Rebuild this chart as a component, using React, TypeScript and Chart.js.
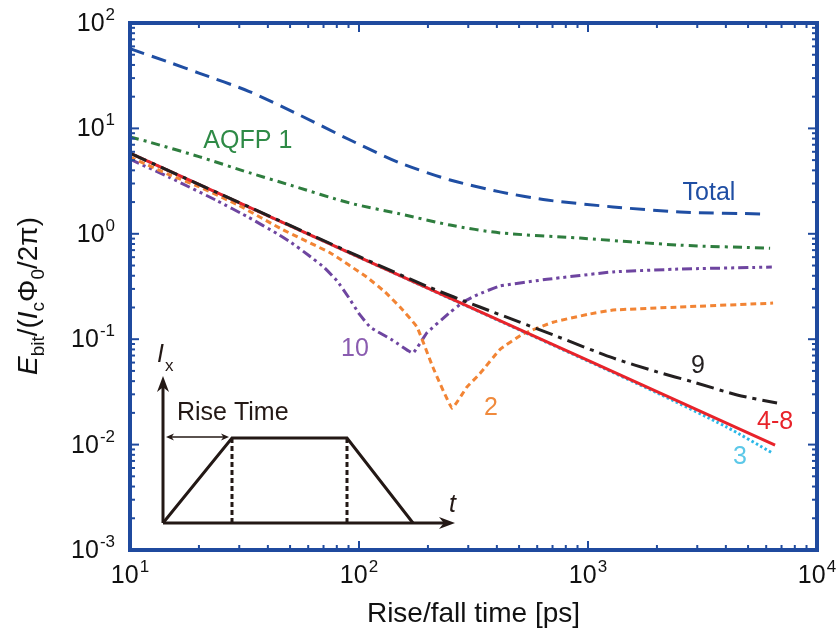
import React, { useEffect, useRef } from "react";
import { Chart, registerables } from "chart.js";

Chart.register(...registerables);

// ---------- data ----------
const totalX = [10, 15, 20, 33, 55, 91, 151, 250, 413, 662, 1285, 2520, 6050];
const totalY = [57, 42, 33.5, 22.5, 13.4, 7.8, 4.7, 3.24, 2.5, 2.09, 1.8, 1.61, 1.54];

const aqfp1X = [10, 12.2, 20, 33.4, 50, 91, 150, 250, 413, 923, 2520, 6240];
const aqfp1Y = [8.3, 7.4, 5.4, 3.78, 2.9, 1.96, 1.55, 1.21, 1.02, 0.91, 0.78, 0.73];

const aqfp10X = [10, 15, 24, 33, 44, 50, 60, 70, 80, 90, 100, 112, 140, 172, 198, 250, 285, 330, 413, 662, 1285, 2520, 6350];
const aqfp10Y = [5.1, 3.4, 2.06, 1.43, 1.0, 0.84, 0.63, 0.485, 0.36, 0.25, 0.175, 0.13, 0.098, 0.074, 0.115, 0.18, 0.225, 0.265, 0.32, 0.37, 0.435, 0.463, 0.484];

const aqfp2X = [10, 15, 20, 30, 46.6, 75, 108, 130, 151, 179, 210, 255, 296, 337, 413, 520, 703, 1000, 1285, 2520, 6430];
const aqfp2Y = [5.36, 3.6, 2.8, 1.85, 1.09, 0.658, 0.389, 0.28, 0.202, 0.131, 0.0545, 0.0222, 0.0352, 0.047, 0.08, 0.112, 0.145, 0.172, 0.189, 0.202, 0.22];

const aqfp9X = [10, 100, 200, 337, 500, 703, 1285, 2000, 2875, 4480, 6690];
const aqfp9Y = [5.82, 0.61, 0.315, 0.202, 0.146, 0.11, 0.0664, 0.049, 0.0393, 0.0296, 0.0248];

const aqfp48X = [10, 100, 1000, 6560];
const aqfp48Y = [5.82, 0.6, 0.063, 0.0099];

const aqfp3X = [10, 100, 1000, 2000, 4000, 6400];
const aqfp3Y = [5.82, 0.6, 0.062, 0.031, 0.0148, 0.0083];

const xExponents = ["1", "2", "3", "4"];
const yExponents = ["2", "1", "0", "-1", "-2", "-3"];

const FONT = '"Liberation Sans", Arial, Helvetica, sans-serif';
const FRAME = "#1f4a9e";
const INK = "#231815";

const pts = (xs: number[], ys: number[]) => xs.map((x, i) => ({ x, y: ys[i] }));

function drawPow(ctx: CanvasRenderingContext2D, exp: string, x: number, y: number, align: "center" | "right") {
  ctx.font = `25px ${FONT}`;
  const wb = ctx.measureText("10").width;
  ctx.font = `17px ${FONT}`;
  const we = ctx.measureText(exp).width;
  const total = wb + we + 1;
  const x0 = align === "center" ? x - total / 2 : x - total;
  ctx.textAlign = "left";
  ctx.textBaseline = "alphabetic";
  ctx.fillStyle = "#111";
  ctx.font = `25px ${FONT}`;
  ctx.fillText("10", x0, y + 9);
  ctx.font = `17px ${FONT}`;
  ctx.fillText(exp, x0 + wb + 1, y - 2);
}

function arrowHead(ctx: CanvasRenderingContext2D, x: number, y: number, dir: "up" | "right" | "left", len: number, half: number) {
  ctx.beginPath();
  if (dir === "up") {
    ctx.moveTo(x, y);
    ctx.lineTo(x - half, y + len);
    ctx.lineTo(x, y + len * 0.7);
    ctx.lineTo(x + half, y + len);
  } else if (dir === "right") {
    ctx.moveTo(x, y);
    ctx.lineTo(x - len, y - half);
    ctx.lineTo(x - len * 0.7, y);
    ctx.lineTo(x - len, y + half);
  } else {
    ctx.moveTo(x, y);
    ctx.lineTo(x + len, y - half);
    ctx.lineTo(x + len * 0.7, y);
    ctx.lineTo(x + len, y + half);
  }
  ctx.closePath();
  ctx.fill();
}

const decorPlugin = {
  id: "decor",
  afterDraw(chart: any) {
    const ctx: CanvasRenderingContext2D = chart.ctx;
    const xs = chart.scales.x;
    const ys = chart.scales.y;
    const { left, right, top, bottom } = chart.chartArea;
    ctx.save();

    // ticks
    ctx.strokeStyle = FRAME;
    ctx.lineWidth = 2;
    const xMajors = [10, 100, 1000, 10000];
    const yMajors = [100, 10, 1, 0.1, 0.01, 0.001];
    const tick = (x1: number, y1: number, x2: number, y2: number) => {
      ctx.beginPath();
      ctx.moveTo(x1, y1);
      ctx.lineTo(x2, y2);
      ctx.stroke();
    };
    for (let k = 1; k <= 3; k++) {
      for (let m = 1; m <= 9; m++) {
        const v = m * Math.pow(10, k);
        const px = xs.getPixelForValue(v);
        const L = m === 1 ? 9 : 5;
        tick(px, bottom, px, bottom - L);
        tick(px, top, px, top + L);
      }
    }
    for (let k = -3; k <= 1; k++) {
      for (let m = 1; m <= 9; m++) {
        const v = m * Math.pow(10, k);
        const py = ys.getPixelForValue(v);
        const L = m === 1 ? 9 : 5;
        tick(left, py, left + L, py);
        tick(right, py, right - L, py);
      }
    }

    // frame
    ctx.lineWidth = 4;
    ctx.strokeStyle = FRAME;
    ctx.strokeRect(left, top, right - left, bottom - top);

    // tick labels
    xMajors.forEach((v, i) => drawPow(ctx, xExponents[i], xs.getPixelForValue(v), bottom + 24, "center"));
    yMajors.forEach((v, i) => drawPow(ctx, yExponents[i], left - 15, ys.getPixelForValue(v) - 1, "right"));

    // x title
    ctx.fillStyle = "#111";
    ctx.font = `28px ${FONT}`;
    ctx.textAlign = "center";
    ctx.textBaseline = "alphabetic";
    ctx.fillText("Rise/fall time [ps]", (left + right) / 2, 622);

    // y title
    ctx.save();
    ctx.translate(37, 296);
    ctx.rotate(-Math.PI / 2);
    const segs = [
      { t: "E", f: `italic 28px ${FONT}`, dy: 0 },
      { t: "bit", f: `19px ${FONT}`, dy: 7 },
      { t: "/(", f: `28px ${FONT}`, dy: 0 },
      { t: "I", f: `italic 28px ${FONT}`, dy: 0 },
      { t: "c", f: `19px ${FONT}`, dy: 7 },
      { t: "\u03A6", f: `28px ${FONT}`, dy: 0 },
      { t: "0", f: `19px ${FONT}`, dy: 7 },
      { t: "/2\u03C0)", f: `28px ${FONT}`, dy: 0 },
    ];
    let tw = 0;
    segs.forEach((s) => {
      ctx.font = s.f;
      tw += ctx.measureText(s.t).width;
    });
    let cx = -tw / 2;
    ctx.textAlign = "left";
    segs.forEach((s) => {
      ctx.font = s.f;
      ctx.fillText(s.t, cx, s.dy);
      cx += ctx.measureText(s.t).width;
    });
    ctx.restore();

    // series labels (anchored in data space)
    const labels = [
      { t: "Total", x: 3375, y: 2.44, c: "#1f4ea3" },
      { t: "AQFP 1", x: 32.7, y: 7.59, c: "#2e8a46" },
      { t: "10", x: 96, y: 0.081, c: "#8a5cb0" },
      { t: "2", x: 377, y: 0.0222, c: "#f08a3c" },
      { t: "9", x: 3020, y: 0.0557, c: "#231f20" },
      { t: "4-8", x: 6560, y: 0.0164, c: "#e8232a" },
      { t: "3", x: 4610, y: 0.0076, c: "#5cc8e8" },
    ];
    ctx.font = `25px ${FONT}`;
    ctx.textAlign = "center";
    ctx.textBaseline = "middle";
    labels.forEach((l) => {
      ctx.fillStyle = l.c;
      ctx.fillText(l.t, xs.getPixelForValue(l.x), ys.getPixelForValue(l.y));
    });

    // inset: current waveform schematic
    const ox = left + 33;
    const oy = bottom - 27;
    ctx.strokeStyle = INK;
    ctx.fillStyle = INK;
    ctx.lineWidth = 3;
    ctx.lineCap = "butt";
    tick(ox, oy, ox, oy - 140);
    arrowHead(ctx, ox, oy - 147, "up", 16, 6);
    tick(ox, oy, ox + 285, oy);
    arrowHead(ctx, ox + 292, oy, "right", 16, 6);
    ctx.beginPath();
    ctx.moveTo(ox, oy);
    ctx.lineTo(ox + 69, oy - 85);
    ctx.lineTo(ox + 184, oy - 85);
    ctx.lineTo(ox + 250, oy);
    ctx.stroke();
    ctx.setLineDash([5, 3]);
    ctx.lineWidth = 3;
    tick(ox + 69, oy - 85, ox + 69, oy);
    tick(ox + 184, oy - 85, ox + 184, oy);
    ctx.setLineDash([]);
    ctx.lineWidth = 1.3;
    tick(ox + 6, oy - 86, ox + 63, oy - 86);
    arrowHead(ctx, ox + 3, oy - 86, "left", 8, 3.5);
    arrowHead(ctx, ox + 66, oy - 86, "right", 8, 3.5);
    ctx.textBaseline = "alphabetic";
    ctx.textAlign = "left";
    ctx.font = `25px ${FONT}`;
    ctx.fillText("Rise Time", ox + 14, oy - 103);
    ctx.font = `italic 25px ${FONT}`;
    ctx.fillText("I", ox - 6, oy - 161);
    ctx.fillText("t", ox + 286, oy - 11);
    ctx.font = `17px ${FONT}`;
    ctx.fillText("x", ox + 2, oy - 152);

    ctx.restore();
  },
};

export default function App() {
  const ref = useRef<HTMLCanvasElement | null>(null);
  useEffect(() => {
    if (!ref.current) return;
    const common = { pointRadius: 0, borderWidth: 3, fill: false, tension: 0.25 };
    const chart = new Chart(ref.current, {
      type: "line",
      data: {
        datasets: [
          { ...common, label: "9", data: pts(aqfp9X, aqfp9Y), borderColor: "#231f20", borderDash: [18, 6, 4, 6], order: 0 },
          { ...common, label: "4-8", data: pts(aqfp48X, aqfp48Y), borderColor: "#e8232a", tension: 0, order: 1 },
          { ...common, label: "3", data: pts(aqfp3X, aqfp3Y), borderColor: "#2ab8e8", borderDash: [2.5, 2.5], order: 2 },
          { ...common, label: "2", data: pts(aqfp2X, aqfp2Y), borderColor: "#f28434", borderDash: [6, 4], tension: 0.1, order: 3 },
          { ...common, label: "10", data: pts(aqfp10X, aqfp10Y), borderColor: "#6e45a0", borderDash: [10, 4, 3, 4, 3, 4], tension: 0.1, order: 4 },
          { ...common, label: "AQFP 1", data: pts(aqfp1X, aqfp1Y), borderColor: "#2e7d3e", borderDash: [9, 5, 3, 5], order: 5 },
          { ...common, label: "Total", data: pts(totalX, totalY), borderColor: "#1f4ea3", borderDash: [15, 8], order: 6 },
        ] as any,
      },
      options: {
        animation: false,
        responsive: false,
        devicePixelRatio: 1,
        layout: { padding: { left: 130, right: 21, top: 23, bottom: 87 } },
        plugins: { legend: { display: false }, tooltip: { enabled: false } },
        scales: {
          x: { type: "logarithmic", min: 10, max: 10000, display: false },
          y: { type: "logarithmic", min: 0.001, max: 100, display: false },
        },
      },
      plugins: [decorPlugin],
    });
    return () => chart.destroy();
  }, []);
  return (
    <div style={{ position: "absolute", left: 0, top: 0, width: 838, height: 637, background: "#fff" }}>
      <canvas ref={ref} width={838} height={637} />
    </div>
  );
}
